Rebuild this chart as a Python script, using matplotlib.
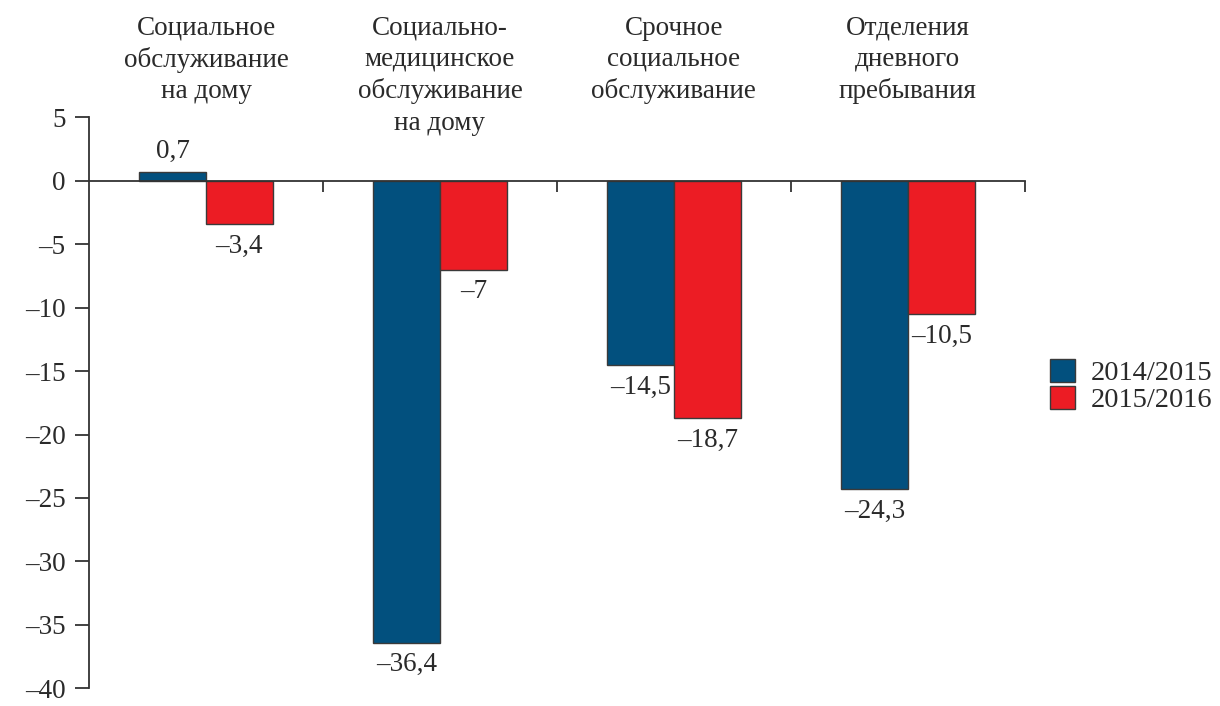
import matplotlib
matplotlib.use("Agg")
import matplotlib.pyplot as plt
import matplotlib.transforms as mtransforms
from matplotlib.ticker import FuncFormatter
import numpy as np

categories = [
    "Социальное\nобслуживание\nна дому",
    "Социально-\nмедицинское\nобслуживание\nна дому",
    "Срочное\nсоциальное\nобслуживание",
    "Отделения\nдневного\nпребывания",
]
series_names = ["2014/2015", "2015/2016"]
values_2014_2015 = [0.7, -36.4, -14.5, -24.3]
values_2015_2016 = [-3.4, -7.0, -18.7, -10.5]
value_labels_2014_2015 = ["0,7", "–36,4", "–14,5", "–24,3"]
value_labels_2015_2016 = ["–3,4", "–7", "–18,7", "–10,5"]
y_ticks = [5, 0, -5, -10, -15, -20, -25, -30, -35, -40]

colors = ["#02507e", "#ec1c24"]
text_color = "#2a2a2a"

plt.rcParams["font.family"] = ["Liberation Serif", "DejaVu Serif"]
plt.rcParams["font.size"] = 19.5

fig = plt.figure(figsize=(12.2, 7.06), dpi=100)
ax = fig.add_axes([0.073, 0.025, 0.767, 0.809])

x = np.arange(len(categories))
w = 0.285
series = [values_2014_2015, values_2015_2016]
labels = [value_labels_2014_2015, value_labels_2015_2016]
for i, (vals, labs) in enumerate(zip(series, labels)):
    pos = x + (i - 0.5) * w
    ax.bar(pos, vals, width=w, color=colors[i], edgecolor="#3a3a3a",
           linewidth=1.0, label=series_names[i], zorder=2)
    for px, v, t in zip(pos, vals, labs):
        if v >= 0:
            ax.annotate(t, (px, v), xytext=(0, 6), textcoords="offset points",
                        ha="center", va="bottom", color=text_color)
        else:
            ax.annotate(t, (px, v), xytext=(0, -7), textcoords="offset points",
                        ha="center", va="top", color=text_color)

ax.set_xlim(-0.5, len(categories) - 0.5)
ax.set_ylim(-40, 5)
ax.set_yticks(y_ticks)
ax.yaxis.set_major_formatter(FuncFormatter(
    lambda v, _: ("–" + str(int(abs(v)))) if v < 0 else str(int(v))))
ax.tick_params(axis="y", direction="out", length=10, width=1.3,
               color="#333333", labelcolor=text_color, pad=7)

ax.spines["top"].set_visible(False)
ax.spines["right"].set_visible(False)
ax.spines["bottom"].set_position(("data", 0))
for s in ("left", "bottom"):
    ax.spines[s].set_color("#333333")
    ax.spines[s].set_linewidth(1.3)
ax.set_xticks(np.arange(len(categories)) + 0.5)
ax.set_xticklabels([])
ax.tick_params(axis="x", direction="out", length=8, width=1.3, color="#333333")
ax.spines["bottom"].set_zorder(3)

trans = mtransforms.blended_transform_factory(ax.transData, fig.transFigure)
for xi, cat in zip(x, categories):
    ax.text(xi, 0.978, cat, transform=trans, ha="center", va="top",
            linespacing=1.33, color=text_color)

leg = fig.legend(loc="center left", bbox_to_anchor=(0.84, 0.453),
                 frameon=False, handlelength=0.85, handleheight=0.85,
                 handletextpad=0.55, labelspacing=0.0, fontsize=20.5)
for t in leg.get_texts():
    t.set_color(text_color)

fig.savefig("out.png", dpi=100)
